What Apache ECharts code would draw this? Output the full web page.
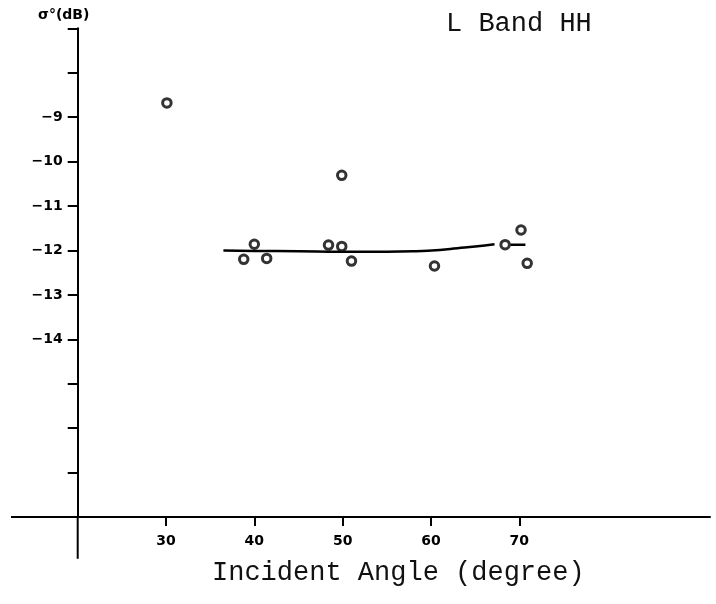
<!DOCTYPE html>
<html>
<head>
<meta charset="utf-8">
<script src="https://cdn.jsdelivr.net/npm/echarts@6/dist/echarts.min.js"></script>
<style>
html,body{margin:0;padding:0;background:#fff;}
#chart{width:716px;height:604px;}
</style>
</head>
<body>
<div id="chart"></div>
<script>
// Observed backscatter points: [incident angle (deg), sigma0 (dB)]
const pointAngles = [30.1, 38.8, 40.0, 41.4, 48.4, 49.9, 49.9, 51.0, 60.4, 68.4, 70.2, 70.9];
const pointSigma  = [-8.68, -12.20, -11.86, -12.18, -11.88, -10.31, -11.91, -12.24, -12.35, -11.87, -11.54, -12.29];

// Fitted curve (null = gap in the drawn line)
const curveAngles = [36.5, 40, 45, 50, 55, 58, 61, 63, 65, 67.2, null, 69.0, 70.7];
const curveSigma  = [-12.00, -12.01, -12.02, -12.03, -12.03, -12.02, -11.99, -11.95, -11.91, -11.86, null, -11.87, -11.87];

// Axis labels / ticks
const xTickValues = [30, 40, 50, 60, 70];
const yLabelValues = [-9, -10, -11, -12, -13, -14];
const yTickValues = [-7, -8, -9, -10, -11, -12, -13, -14, -15, -16, -17];

const chart = echarts.init(document.getElementById('chart'));
const ink = '#000';

const scatterData = pointAngles.map((a, i) => [a, pointSigma[i]]);
const curveData = curveAngles.map((a, i) => a === null ? [null, null] : [a, curveSigma[i]]);

const option = {
  backgroundColor: '#fff',
  animation: false,
  title: [
    { text: 'L Band HH', left: 446, top: 10, padding: 0,
      textStyle: { fontFamily: 'Liberation Mono', fontSize: 27, fontWeight: 'normal', color: '#111' } },
    { text: 'Incident Angle (degree)', left: 212, top: 559, padding: 0,
      textStyle: { fontFamily: 'Liberation Mono', fontSize: 27, fontWeight: 'normal', color: '#111' } },
    { text: 'σ°(dB)', left: 38, top: 8, padding: 0,
      textStyle: { fontFamily: 'DejaVu Sans', fontSize: 14, fontWeight: 'bold', color: ink } }
  ],
  grid: { left: 77.7, right: 6, top: 28.3, bottom: 87, containLabel: false },
  xAxis: {
    type: 'value', min: 20, max: 91.6, interval: 10,
    axisLine: { show: true, onZero: false, lineStyle: { color: ink, width: 2 } },
    axisTick: { show: true, inside: false, length: 9, customValues: xTickValues,
      lineStyle: { color: ink, width: 2 } },
    axisLabel: { show: true, customValues: xTickValues, margin: 17,
      fontFamily: 'DejaVu Sans', fontWeight: 'bold', fontSize: 14, color: ink },
    splitLine: { show: false }
  },
  yAxis: {
    type: 'value', min: -18, max: -7, interval: 1,
    axisLine: { show: true, onZero: false, lineStyle: { color: ink, width: 2 } },
    axisTick: { show: true, inside: false, length: 10, customValues: yTickValues,
      lineStyle: { color: ink, width: 2 } },
    axisLabel: { show: true, customValues: yLabelValues, margin: 15,
      fontFamily: 'DejaVu Sans', fontWeight: 'bold', fontSize: 14, color: ink,
      formatter: v => '\u2212' + Math.abs(v) },
    splitLine: { show: false }
  },
  series: [
    {
      type: 'line', data: curveData, connectNulls: false,
      showSymbol: false, symbol: 'none', smooth: true,
      lineStyle: { color: ink, width: 2.5 }, z: 2
    },
    {
      type: 'scatter', data: scatterData,
      symbol: 'circle', symbolSize: 8.5,
      itemStyle: { color: '#fff', borderColor: ink, borderWidth: 3 }, z: 3
    }
  ]
};
chart.setOption(option);

// Axis line extensions past the origin (left of y axis, below x axis), placed via the chart's scales
const extXFrom = 12.45, extYTo = -18.94;
const pA = chart.convertToPixel({ gridIndex: 0 }, [extXFrom, -18]);
const pB = chart.convertToPixel({ gridIndex: 0 }, [20, -18]);
const pC = chart.convertToPixel({ gridIndex: 0 }, [20, extYTo]);
chart.setOption({
  graphic: [
    { type: 'line', shape: { x1: pA[0], y1: pA[1], x2: pB[0], y2: pB[1] },
      style: { stroke: ink, lineWidth: 2 } },
    { type: 'line', shape: { x1: pB[0], y1: pB[1], x2: pC[0], y2: pC[1] },
      style: { stroke: ink, lineWidth: 2 } }
  ]
});
</script>
</body>
</html>
